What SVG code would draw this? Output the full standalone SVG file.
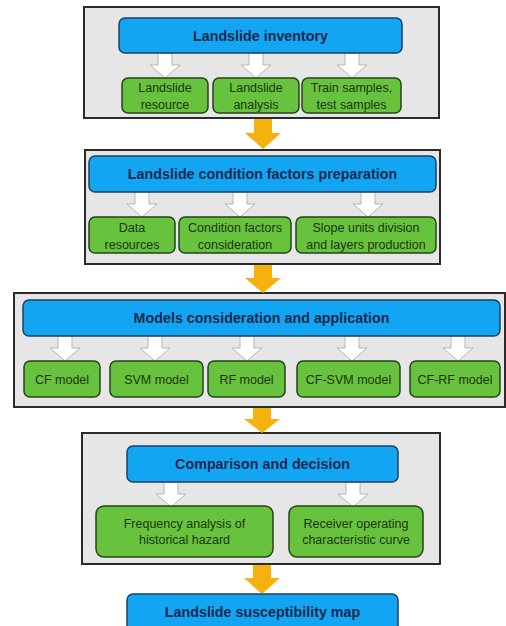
<svg xmlns="http://www.w3.org/2000/svg" xmlns:xlink="http://www.w3.org/1999/xlink" width="506" height="626" viewBox="0 0 506 626">
<style>
.panel{fill:#e6e6e6;stroke:#2b2b2b;stroke-width:2}
.blue{fill:#12a6f2;stroke:#1d3f66;stroke-width:1.5}
.green{fill:#67c23d;stroke:#27421a;stroke-width:1.5}
.bt{font-family:"Liberation Sans",Arial,sans-serif;font-weight:bold;font-size:14.3px;fill:#17284f;text-anchor:middle}
.gt{font-family:"Liberation Sans",Arial,sans-serif;font-size:12.5px;fill:#1d3510;text-anchor:middle}
.wa{fill:#ffffff;stroke:#b5b5b5;stroke-width:1}
.oa{fill:#f5b20f;stroke:none}
</style>
<defs>
<path id="warrow" class="wa" d="M-7,0 H7 V12 H15 L0,25 L-15,12 H-7 Z"/>
</defs>
<rect width="506" height="626" fill="#ffffff"/>

<g id="panel1"><rect class="panel" x="84" y="7" width="355" height="111"/></g>
<g id="panel2"><rect class="panel" x="85" y="150" width="355" height="114"/></g>
<g id="panel3"><rect class="panel" x="14" y="293" width="491" height="114"/></g>
<g id="panel4"><rect class="panel" x="82" y="433" width="358" height="131"/></g>

<g id="connectors">
<use xlink:href="#warrow" x="165" y="53"/>
<use xlink:href="#warrow" x="256" y="53"/>
<use xlink:href="#warrow" x="352" y="53"/>
<use xlink:href="#warrow" x="142" y="192"/>
<use xlink:href="#warrow" x="240" y="192"/>
<use xlink:href="#warrow" x="368" y="192"/>
<use xlink:href="#warrow" x="65" y="336"/>
<use xlink:href="#warrow" x="155" y="336"/>
<use xlink:href="#warrow" x="247" y="336"/>
<use xlink:href="#warrow" x="352" y="336"/>
<use xlink:href="#warrow" x="458" y="336"/>
<use xlink:href="#warrow" x="171" y="482"/>
<use xlink:href="#warrow" x="353" y="482"/>
<path class="oa" d="M254,119 H272 V133 H281 L263,149 L245,133 H254 Z"/>
<path class="oa" d="M254,265 H272 V278 H281 L263,293 L245,278 H254 Z"/>
<path class="oa" d="M253,408 H271 V419 H280 L262,433 L244,419 H253 Z"/>
<path class="oa" d="M253,565 H271 V578 H280 L262,594 L244,578 H253 Z"/>
</g>

<g id="inventory"><rect class="blue" x="119" y="18" width="283" height="35" rx="6"/><text class="bt" x="260.5" y="40.5">Landslide inventory</text></g>
<g id="resource"><rect class="green" x="122" y="78" width="86" height="35" rx="6"/><text class="gt" x="165" y="92">Landslide</text><text class="gt" x="165" y="108.5">resource</text></g>
<g id="analysis"><rect class="green" x="213" y="78" width="86" height="35" rx="6"/><text class="gt" x="256" y="92">Landslide</text><text class="gt" x="256" y="108.5">analysis</text></g>
<g id="samples"><rect class="green" x="302" y="78" width="99" height="35" rx="6"/><text class="gt" x="351.5" y="92">Train samples,</text><text class="gt" x="351.5" y="108.5">test samples</text></g>

<g id="factors"><rect class="blue" x="89" y="156" width="347" height="36" rx="6"/><text class="bt" x="262.5" y="179">Landslide condition factors preparation</text></g>
<g id="dataresources"><rect class="green" x="89" y="217" width="86" height="36" rx="6"/><text class="gt" x="132" y="232">Data</text><text class="gt" x="132" y="248.5">resources</text></g>
<g id="consideration"><rect class="green" x="179" y="217" width="112" height="36" rx="6"/><text class="gt" x="235" y="232">Condition factors</text><text class="gt" x="235" y="248.5">consideration</text></g>
<g id="slopeunits"><rect class="green" x="296" y="217" width="140" height="36" rx="6"/><text class="gt" x="366" y="232">Slope units division</text><text class="gt" x="366" y="248.5">and layers production</text></g>

<g id="models"><rect class="blue" x="23" y="300" width="477" height="36" rx="6"/><text class="bt" x="261.5" y="323">Models consideration and application</text></g>
<g id="cf"><rect class="green" x="24" y="361" width="76" height="36" rx="6"/><text class="gt" x="62" y="383.5">CF model</text></g>
<g id="svm"><rect class="green" x="110" y="361" width="93" height="36" rx="6"/><text class="gt" x="156.5" y="383.5">SVM model</text></g>
<g id="rf"><rect class="green" x="208" y="361" width="77" height="36" rx="6"/><text class="gt" x="246.5" y="383.5">RF model</text></g>
<g id="cfsvm"><rect class="green" x="297" y="361" width="103" height="36" rx="6"/><text class="gt" x="348.5" y="383.5">CF-SVM  model</text></g>
<g id="cfrf"><rect class="green" x="410" y="361" width="90" height="36" rx="6"/><text class="gt" x="455" y="383.5">CF-RF model</text></g>

<g id="comparison"><rect class="blue" x="127" y="446" width="271" height="36" rx="6"/><text class="bt" x="262.5" y="469">Comparison and decision</text></g>
<g id="frequency"><rect class="green" x="96" y="506" width="177" height="51" rx="8"/><text class="gt" x="184.5" y="528">Frequency analysis of</text><text class="gt" x="184.5" y="544">historical hazard</text></g>
<g id="roc"><rect class="green" x="289" y="506" width="134" height="51" rx="8"/><text class="gt" x="356" y="528">Receiver operating</text><text class="gt" x="356" y="544">characteristic curve</text></g>

<g id="map"><rect class="blue" x="127" y="594" width="271" height="40" rx="6"/><text class="bt" x="262.5" y="617">Landslide susceptibility map</text></g>
</svg>
